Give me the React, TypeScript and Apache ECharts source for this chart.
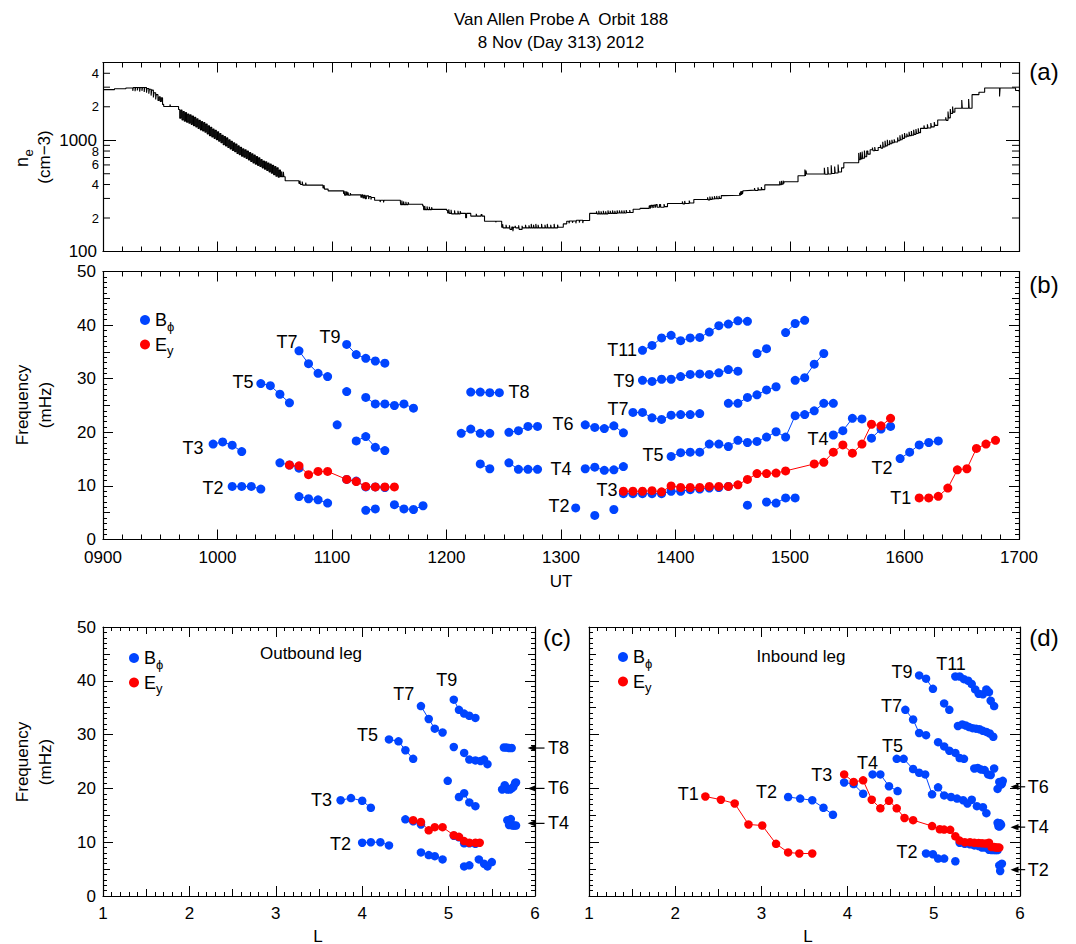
import React, { useEffect, useRef } from 'react';
import * as echarts from 'echarts';

const FONT = '"Liberation Sans", Arial, Helvetica, sans-serif';
const BLUE = '#0044ff';
const RED = '#ff0000';

// (a) electron density along the orbit: [UT hour, n_e (cm^-3)], each level held until the next sample
const neProfile: [number, number][] = [
  [9.0, 2850], [9.1, 2900], [9.2, 2950],
  [9.26, 2780], [9.265, 2980], [9.28, 2760], [9.285, 2980], [9.3, 2800], [9.305, 2980], [9.32, 2740], [9.325, 2980],
  [9.34, 2780], [9.345, 2980], [9.36, 2720], [9.365, 2980], [9.38, 2680], [9.385, 2920], [9.4, 2620], [9.405, 2870],
  [9.42, 2520], [9.425, 2820], [9.44, 2420], [9.445, 2670], [9.46, 2330], [9.465, 2570], [9.48, 2280], [9.49, 2460],
  [9.5, 2230], [9.51, 2410], [9.52, 2100], [9.53, 2010], [9.585, 2100], [9.59, 2010],
  [9.66, 1890], [9.67, 1580], [9.68, 1870], [9.69, 1520], [9.7, 1810], [9.71, 1480], [9.72, 1770], [9.73, 1450],
  [9.74, 1720], [9.75, 1420], [9.76, 1690], [9.77, 1390], [9.78, 1650], [9.79, 1350], [9.8, 1610], [9.81, 1320],
  [9.82, 1560], [9.83, 1280], [9.84, 1510], [9.85, 1240], [9.86, 1470], [9.87, 1210], [9.88, 1440], [9.89, 1180],
  [9.9, 1400], [9.91, 1140], [9.92, 1350], [9.93, 1100], [9.94, 1310], [9.95, 1070], [9.96, 1260], [9.97, 1040],
  [9.98, 1230], [9.99, 1010], [10.0, 1190], [10.01, 980], [10.02, 1150], [10.03, 950], [10.04, 1110], [10.05, 910],
  [10.06, 1080], [10.07, 890], [10.08, 1050], [10.09, 860], [10.1, 1010], [10.11, 835], [10.12, 980], [10.13, 810],
  [10.14, 950], [10.15, 790], [10.16, 925], [10.17, 760], [10.18, 890], [10.19, 740], [10.2, 865], [10.21, 720],
  [10.22, 840], [10.23, 705], [10.24, 820], [10.25, 685], [10.26, 800], [10.27, 665], [10.28, 775], [10.29, 645],
  [10.3, 755], [10.31, 625], [10.32, 735], [10.33, 610], [10.34, 715], [10.35, 595], [10.36, 695], [10.37, 580],
  [10.38, 670], [10.39, 565], [10.4, 650], [10.41, 550], [10.42, 640], [10.43, 535], [10.44, 625], [10.45, 520],
  [10.46, 610], [10.47, 505], [10.48, 595], [10.49, 490], [10.5, 580], [10.51, 475], [10.52, 565], [10.53, 465],
  [10.54, 540], [10.55, 470], [10.56, 525], [10.565, 470], [10.575, 520], [10.58, 470], [10.591, 433],
  [10.711, 410], [10.72, 433], [10.725, 400], [10.74, 425], [10.745, 395], [10.77, 415], [10.775, 395],
  [10.921, 372], [10.93, 395], [10.935, 364], [10.966, 351],
  [11.101, 330], [11.106, 351], [11.111, 320], [11.12, 348], [11.125, 320], [11.13, 345], [11.135, 320], [11.14, 340],
  [11.145, 320], [11.16, 335], [11.165, 323],
  [11.252, 308], [11.26, 323], [11.27, 303], [11.28, 320], [11.29, 298], [11.3, 316], [11.32, 296], [11.325, 312],
  [11.34, 293], [11.345, 306], [11.372, 289], [11.42, 278], [11.425, 289], [11.45, 276], [11.455, 289],
  [11.597, 282], [11.6, 264], [11.61, 287], [11.615, 264], [11.625, 282], [11.63, 264], [11.645, 280], [11.65, 264],
  [11.665, 277], [11.67, 266],
  [11.792, 257], [11.8, 238], [11.81, 257], [11.815, 238], [11.83, 254], [11.835, 238], [11.85, 252], [11.855, 238],
  [11.87, 250], [11.875, 239],
  [12.002, 234], [12.01, 222], [12.02, 240], [12.025, 220], [12.04, 237], [12.045, 218], [12.07, 234], [12.075, 218],
  [12.1, 232], [12.105, 218], [12.12, 230], [12.125, 220], [12.167, 201], [12.175, 220], [12.212, 208], [12.26, 218],
  [12.265, 208], [12.302, 215], [12.31, 208],
  [12.332, 187], [12.43, 183], [12.435, 187], [12.482, 165],
  [12.49, 176], [12.495, 163], [12.52, 174], [12.525, 163], [12.55, 172], [12.555, 158], [12.57, 166], [12.58, 152],
  [12.585, 165], [12.6, 170], [12.605, 163], [12.63, 172], [12.635, 158], [12.66, 170], [12.665, 163], [12.69, 174],
  [12.695, 163], [12.72, 172], [12.725, 163], [12.74, 177], [12.745, 163], [12.76, 174], [12.765, 163], [12.78, 177],
  [12.785, 163], [12.8, 174], [12.805, 163], [12.83, 177], [12.835, 163], [12.86, 174], [12.865, 163], [12.88, 177],
  [12.885, 163], [12.91, 174], [12.915, 163], [12.94, 177], [12.945, 163], [12.97, 174], [12.975, 165],
  [13.02, 177], [13.05, 187], [13.07, 179], [13.075, 188], [13.1, 181], [13.105, 188], [13.13, 179], [13.135, 191],
  [13.16, 182], [13.165, 191], [13.19, 180], [13.195, 190],
  [13.25, 220], [13.31, 230], [13.315, 218], [13.33, 232], [13.335, 218], [13.35, 230], [13.355, 218], [13.37, 232],
  [13.375, 218], [13.39, 230], [13.395, 218], [13.41, 234], [13.415, 220], [13.43, 232], [13.435, 220], [13.45, 234],
  [13.455, 220], [13.47, 232], [13.475, 220], [13.49, 234], [13.495, 222], [13.51, 234], [13.515, 222], [13.53, 234],
  [13.535, 222], [13.55, 234], [13.555, 222], [13.57, 236], [13.575, 224], [13.6, 236], [13.605, 224], [13.63, 240],
  [13.69, 244], [13.77, 257], [13.78, 243], [13.785, 260], [13.795, 246], [13.8, 260], [13.81, 246], [13.815, 262],
  [13.825, 248], [13.83, 264], [13.84, 250], [13.86, 264], [13.87, 250], [13.9, 267], [13.905, 253], [13.93, 270],
  [14.06, 282], [14.065, 268], [14.08, 285], [14.085, 270], [14.12, 287], [14.125, 273], [14.16, 293],
  [14.28, 307], [14.285, 291], [14.3, 312], [14.305, 294], [14.32, 312], [14.325, 296], [14.34, 314], [14.345, 298],
  [14.36, 316], [14.365, 298], [14.38, 316], [14.385, 300], [14.4, 318], [14.42, 320],
  [14.56, 338], [14.565, 318], [14.57, 348], [14.575, 323], [14.58, 350], [14.585, 328], [14.59, 352], [14.6, 356],
  [14.69, 372], [14.695, 354], [14.72, 377], [14.725, 358], [14.75, 380], [14.755, 360], [14.78, 397],
  [14.91, 428], [14.915, 398], [14.925, 431], [14.93, 402], [14.94, 433], [14.945, 408], [14.95, 424],
  [15.07, 480], [15.13, 545], [15.135, 478], [15.14, 535], [15.145, 497],
  [15.3, 565], [15.305, 495], [15.33, 575], [15.335, 498], [15.36, 595], [15.365, 503], [15.39, 580], [15.395, 508],
  [15.42, 605], [15.425, 518], [15.45, 565], [15.47, 627],
  [15.6, 770], [15.605, 670], [15.615, 780], [15.62, 680], [15.63, 790], [15.635, 690], [15.65, 810], [15.655, 710],
  [15.67, 800], [15.68, 750], [15.7, 822], [15.72, 860], [15.725, 805], [15.74, 870], [15.745, 810], [15.77, 860],
  [15.79, 910], [15.795, 850], [15.81, 970], [15.815, 870], [15.83, 990], [15.835, 890], [15.85, 1010], [15.855, 910],
  [15.87, 1000], [15.875, 930], [15.89, 1010], [15.895, 950], [15.91, 1020], [15.915, 966],
  [15.94, 1060], [15.945, 990], [15.96, 1110], [15.965, 1010], [15.98, 1130], [15.985, 1040], [16.0, 1160],
  [16.005, 1070], [16.02, 1150], [16.025, 1090], [16.04, 1190], [16.045, 1100], [16.06, 1210], [16.065, 1110],
  [16.08, 1240], [16.085, 1130], [16.1, 1260], [16.105, 1150], [16.12, 1280], [16.125, 1170], [16.14, 1280],
  [16.17, 1360], [16.175, 1280], [16.2, 1390], [16.205, 1290], [16.23, 1430], [16.235, 1320], [16.26, 1460],
  [16.265, 1360], [16.29, 1520],
  [16.36, 1610], [16.365, 1510], [16.38, 1810], [16.385, 1590], [16.4, 1910], [16.405, 1740], [16.42, 2010],
  [16.425, 1790], [16.44, 1941], [16.5, 2300], [16.505, 1941], [16.56, 2350], [16.565, 1941],
  [16.59, 2570], [16.65, 2700], [16.7, 2950], [16.83, 2480], [16.835, 2950], [16.97, 2800], [17.0, 2750],
];

// (a) intermediate log ticks and their labels
const neMinorTicks = [200, 300, 400, 500, 600, 700, 800, 900, 2000, 3000, 4000];
const neMinorLabels = ['2', '', '4', '', '6', '', '8', '', '2', '', '4'];

// (b) tracks: t = minutes after 0900 UT, f = frequency (mHz)
type Track = { t: number[]; f: number[] };
const utBphi: Track[] = [
  { t: [57.7, 62.7, 67.7, 72.7], f: [17.8, 18.2, 17.6, 16.4] },
  { t: [67.7, 72.7, 77.7, 82.7], f: [9.9, 9.9, 9.9, 9.4] },
  { t: [82.7, 87.7, 92.7, 97.7], f: [29.1, 28.7, 27.1, 25.5] },
  { t: [102.7, 107.7, 112.7, 117.7], f: [35.2, 32.8, 31.0, 30.4] },
  { t: [127.7, 132.7, 137.7, 142.7, 147.7], f: [36.4, 34.5, 33.8, 33.3, 32.9] },
  { t: [127.7], f: [27.6] },
  { t: [137.7, 142.7, 147.7, 152.7, 157.7, 162.7], f: [26.5, 25.3, 25.3, 25.0, 25.3, 24.5] },
  { t: [122.7], f: [21.4] },
  { t: [132.7, 137.7, 142.7, 147.7], f: [18.4, 19.2, 17.2, 16.6] },
  { t: [92.7, 97.7, 102.7], f: [14.3, 13.9, 13.3] },
  { t: [127.7, 132.7, 137.7, 142.7, 147.7], f: [11.2, 10.9, 9.8, 9.8, 9.7] },
  { t: [102.7, 107.7, 112.7, 117.7], f: [8.0, 7.6, 7.4, 6.8] },
  { t: [137.7, 142.7], f: [5.45, 5.7] },
  { t: [152.7, 157.7, 162.7, 167.7], f: [6.5, 5.7, 5.6, 6.3] },
  { t: [192.7, 197.7, 202.7, 207.7], f: [27.5, 27.5, 27.4, 27.4] },
  { t: [187.7, 192.7, 197.7, 202.7], f: [19.8, 20.6, 19.8, 19.8] },
  { t: [212.7, 217.7, 222.7, 227.7], f: [20.0, 20.3, 21.1, 21.1] },
  { t: [197.7, 202.7], f: [14.1, 13.2] },
  { t: [212.7, 217.7, 222.7, 227.7], f: [14.3, 13.1, 13.1, 13.1] },
  { t: [252.7, 257.7, 262.7, 267.7, 272.7], f: [21.4, 20.9, 20.7, 21.2, 19.9] },
  { t: [252.7, 257.7, 262.7, 267.7, 272.7], f: [13.2, 13.5, 12.9, 13.0, 13.6] },
  { t: [247.7], f: [5.9] },
  { t: [257.7], f: [4.5] },
  { t: [267.7], f: [5.6] },
  { t: [282.7, 287.7, 292.7, 297.7, 302.7, 307.7, 312.7, 317.7, 322.7, 327.7, 332.7, 337.7], f: [35.3, 36.2, 37.6, 38.1, 37.1, 37.6, 37.7, 38.7, 39.9, 40.2, 40.8, 40.7] },
  { t: [282.7, 287.7, 292.7, 297.7, 302.7, 307.7, 312.7, 317.7, 322.7, 327.7, 332.7], f: [29.7, 29.5, 29.9, 29.9, 30.4, 30.8, 30.9, 30.8, 31.1, 31.7, 31.4] },
  { t: [277.7, 282.7, 287.7, 292.7, 297.7, 302.7, 307.7, 312.7], f: [23.7, 23.7, 22.7, 22.4, 23.2, 23.3, 23.3, 23.5] },
  { t: [297.7, 302.7, 307.7, 312.7, 317.7, 322.7, 327.7, 332.7, 337.7, 342.7, 347.7, 352.7, 357.7, 362.7, 367.7, 372.7, 377.7, 382.7], f: [15.5, 16.2, 16.3, 16.3, 17.8, 17.8, 17.35, 18.5, 18.1, 18.3, 19.1, 20.1, 19.1, 23.1, 23.3, 24.0, 25.4, 25.4] },
  { t: [327.7, 332.7, 337.7, 342.7, 347.7, 352.7], f: [25.4, 25.4, 26.5, 27.0, 27.9, 28.5] },
  { t: [342.7, 347.7], f: [34.7, 35.6] },
  { t: [357.7, 362.7, 367.7], f: [38.6, 40.3, 40.9] },
  { t: [362.7, 367.7, 372.7, 377.7], f: [29.7, 30.2, 32.7, 34.7] },
  { t: [337.7], f: [6.4] },
  { t: [347.7, 352.7, 357.7, 362.7], f: [7.0, 6.8, 7.75, 7.75] },
  { t: [382.7, 387.7, 392.7, 397.7], f: [19.5, 20.3, 22.6, 22.5] },
  { t: [402.7, 407.7, 412.7], f: [18.9, 20.6, 21.1] },
  { t: [417.7, 422.7, 427.7, 432.7, 437.7], f: [15.1, 16.3, 17.65, 18.1, 18.4] },
  { t: [272.7, 277.7, 282.7, 287.7, 292.7, 297.7, 302.7, 307.7, 312.7, 317.7, 322.7, 327.7], f: [8.55, 8.55, 8.55, 8.55, 8.55, 9.0, 9.0, 9.3, 9.4, 9.6, 9.7, 9.9] },
];
const utEy: Track[] = [
  { t: [97.7, 102.7, 107.7, 112.7, 117.7, 127.7, 132.7, 137.7, 142.7, 147.7, 152.7], f: [13.9, 13.75, 12.1, 12.7, 12.7, 11.2, 10.8, 9.9, 9.8, 9.8, 9.8] },
  { t: [272.7, 277.7, 282.7, 287.7, 292.7, 297.7, 302.7, 307.7, 312.7, 317.7, 322.7, 327.7, 332.7, 337.7, 342.7, 347.7, 352.7, 357.7, 372.7, 377.7, 382.7, 387.7, 392.7, 397.7, 402.7, 407.7, 412.7], f: [9.0, 9.0, 9.0, 9.1, 8.9, 10.0, 9.7, 9.7, 9.7, 9.9, 9.9, 9.9, 10.2, 11.2, 12.3, 12.3, 12.4, 12.8, 14.1, 14.4, 16.3, 17.65, 16.1, 17.8, 21.5, 21.2, 22.6] },
  { t: [427.7, 432.7, 437.7, 442.7, 447.7, 452.7, 457.7, 462.7, 467.7], f: [7.75, 7.75, 8.05, 9.6, 13.0, 13.2, 17.0, 17.8, 18.5] },
];
const utLabelText = ['T3', 'T2', 'T5', 'T7', 'T9', 'T8', 'T6', 'T4', 'T2', 'T11', 'T9', 'T7', 'T5', 'T3', 'T4', 'T2', 'T1'];
const utLabelT = [47.2, 57.7, 73.4, 96.4, 119.0, 218.0, 241.0, 240.0, 239.0, 272.0, 273.0, 269.9, 288.2, 264.1, 374.7, 408.2, 418.1];
const utLabelF = [17.0, 9.7, 29.3, 36.9, 37.7, 27.6, 21.5, 13.2, 6.2, 35.4, 29.5, 24.3, 15.7, 9.3, 18.8, 13.4, 7.8];

// (c) outbound leg: L shell, frequency (mHz)
type LTrack = { L: number[]; f: number[] };
const outBphi: LTrack[] = [
  { L: [3.75, 3.87, 4.0, 4.1], f: [17.8, 18.2, 17.7, 16.4] },
  { L: [4.0, 4.1, 4.21, 4.31], f: [9.9, 10.0, 10.0, 9.4] },
  { L: [4.31, 4.42, 4.5, 4.59], f: [29.1, 28.75, 27.1, 25.5] },
  { L: [4.68, 4.77, 4.84, 4.93], f: [35.3, 32.9, 31.1, 30.4] },
  { L: [5.06, 5.12, 5.18, 5.24, 5.31], f: [36.5, 34.6, 33.9, 33.5, 33.1] },
  { L: [5.06], f: [27.7] },
  { L: [5.18, 5.24, 5.31, 5.37, 5.41, 5.45], f: [26.6, 25.35, 25.2, 25.1, 25.35, 24.5] },
  { L: [4.99], f: [21.4] },
  { L: [5.12, 5.18, 5.24, 5.31], f: [18.4, 19.1, 17.4, 16.7] },
  { L: [4.5, 4.59, 4.68], f: [14.25, 13.9, 13.3] },
  { L: [5.06, 5.12, 5.18, 5.24, 5.31], f: [11.2, 10.9, 9.8, 9.8, 9.7] },
  { L: [4.68, 4.77, 4.84, 4.93], f: [8.1, 7.6, 7.4, 6.8] },
  { L: [5.18, 5.24], f: [5.5, 5.7] },
  { L: [5.35, 5.41, 5.45, 5.5], f: [6.8, 6.0, 5.5, 6.3] },
  { L: [5.64, 5.67, 5.7, 5.73], f: [27.6, 27.6, 27.5, 27.5] },
  { L: [5.62, 5.65, 5.68, 5.71], f: [19.8, 20.6, 19.8, 19.8] },
  { L: [5.73, 5.75, 5.77, 5.78], f: [20.0, 20.3, 21.0, 21.1] },
  { L: [5.68, 5.7], f: [14.1, 13.2] },
  { L: [5.72, 5.74, 5.76, 5.78], f: [14.3, 13.1, 13.1, 13.1] },
];
const outEy: LTrack[] = [
  { L: [4.59, 4.68, 4.77, 4.84, 4.93, 5.06, 5.12, 5.18, 5.24, 5.31, 5.36], f: [14.1, 13.75, 12.2, 12.8, 12.8, 11.3, 11.0, 10.2, 9.9, 9.9, 9.9] },
];
const outLabelText = ['T3', 'T2', 'T5', 'T7', 'T9'];
const outLabelL = [3.53, 3.75, 4.06, 4.48, 4.98];
const outLabelF = [17.9, 9.7, 30.0, 37.6, 40.2];
const outArrowText = ['T8', 'T6', 'T4'];
const outArrowF = [27.5, 20.0, 13.5];

// (d) inbound leg: L shell, frequency (mHz)
const inBphi: LTrack[] = [
  { L: [3.31, 3.45, 3.59, 3.72, 3.83], f: [18.4, 18.1, 17.8, 16.4, 15.1] },
  { L: [3.96, 4.07, 4.18], f: [21.1, 20.8, 19.0] },
  { L: [4.29, 4.38, 4.48, 4.58], f: [22.6, 22.6, 20.4, 19.5] },
  { L: [4.57, 4.65, 4.76, 4.83, 4.9, 4.98, 5.05, 5.12, 5.2, 5.27, 5.34, 5.39, 5.44, 5.5, 5.57, 5.61], f: [25.5, 25.5, 23.6, 22.9, 22.6, 18.9, 20.2, 18.7, 18.4, 18.1, 17.8, 17.2, 17.9, 16.7, 16.5, 15.4] },
  { L: [4.67, 4.76, 4.83, 4.91], f: [34.6, 32.8, 30.3, 29.9] },
  { L: [5.05, 5.12, 5.18, 5.25, 5.3, 5.35], f: [28.6, 27.8, 27.0, 26.6, 25.65, 25.5] },
  { L: [5.47, 5.51, 5.55, 5.59, 5.63, 5.66, 5.7], f: [23.7, 23.8, 23.5, 23.4, 22.6, 22.5, 23.7] },
  { L: [4.83, 4.91, 4.99], f: [41.0, 40.4, 38.5] },
  { L: [5.12, 5.18], f: [35.8, 34.6] },
  { L: [5.28, 5.33, 5.37, 5.41, 5.45, 5.49, 5.53, 5.57, 5.61, 5.65, 5.69], f: [31.6, 31.9, 31.7, 31.4, 31.2, 31.1, 31.0, 30.7, 30.5, 30.2, 29.6] },
  { L: [5.25, 5.3, 5.35, 5.4, 5.44, 5.48, 5.52, 5.57, 5.61, 5.64, 5.66, 5.7], f: [40.8, 40.8, 40.3, 40.0, 39.4, 38.4, 37.6, 37.5, 38.4, 37.9, 36.3, 35.3] },
  { L: [4.91, 4.99, 5.05, 5.12], f: [7.9, 7.75, 6.95, 6.95] },
  { L: [5.25], f: [6.45] },
  { L: [5.74, 5.76, 5.78, 5.79, 5.8], f: [19.9, 21.2, 20.7, 20.9, 21.4] },
  { L: [5.74, 5.75, 5.76, 5.77, 5.78], f: [13.6, 13.0, 12.9, 13.5, 13.2] },
  { L: [5.76], f: [5.7] },
  { L: [5.79], f: [6.0] },
  { L: [5.77], f: [4.65] },
  { L: [5.3, 5.36, 5.42, 5.47, 5.52, 5.56, 5.6, 5.64, 5.67, 5.7, 5.72, 5.74], f: [9.9, 9.7, 9.6, 9.4, 9.3, 9.0, 9.0, 8.6, 8.55, 8.55, 8.55, 8.55] },
];
const inEy: LTrack[] = [
  { L: [2.35, 2.53, 2.69, 2.85, 3.01, 3.17, 3.31, 3.44, 3.59], f: [18.5, 17.9, 17.2, 13.3, 13.1, 9.7, 8.1, 7.9, 7.9] },
  { L: [3.96, 4.07, 4.18, 4.28, 4.38, 4.48, 4.57, 4.66, 4.76, 4.98, 5.07, 5.12, 5.19, 5.25, 5.3, 5.36, 5.42, 5.47, 5.52, 5.56, 5.6, 5.64, 5.67, 5.7, 5.72, 5.74, 5.76], f: [22.6, 21.2, 21.5, 17.9, 16.3, 17.7, 16.3, 14.5, 14.1, 13.0, 12.4, 12.35, 12.3, 11.1, 10.3, 10.0, 10.0, 9.9, 9.85, 9.8, 9.75, 9.9, 9.1, 9.1, 9.0, 9.0, 9.0] },
];
const inLabelText = ['T1', 'T2', 'T3', 'T4', 'T5', 'T7', 'T9', 'T11', 'T2'];
const inLabelL = [2.15, 3.06, 3.7, 4.23, 4.52, 4.51, 4.63, 5.2, 4.69];
const inLabelF = [19.0, 19.3, 22.4, 24.7, 27.9, 35.3, 41.6, 43.2, 8.2];
const inArrowText = ['T6', 'T4', 'T2'];
const inArrowF = [20.3, 12.8, 4.9];

// ---------- layout ----------
const GRIDS = [
  { left: 103, top: 62.5, width: 916, height: 189 },
  { left: 103, top: 271.5, width: 916, height: 268 },
  { left: 103, top: 627, width: 432, height: 269 },
  { left: 589, top: 627, width: 431, height: 269 },
];

const tickLine = { color: '#000', width: 1 };

function valAxis(o: any) {
  return {
    type: 'value',
    gridIndex: o.grid,
    position: o.pos,
    min: o.min,
    max: o.max,
    interval: o.interval,
    axisLine: { show: o.line !== false, onZero: false, lineStyle: { color: '#000', width: 1.2 } },
    axisTick: { show: true, inside: true, length: o.tick, lineStyle: tickLine },
    minorTick: o.minor
      ? { show: true, splitNumber: o.minor, length: o.minorLen, lineStyle: tickLine }
      : { show: false },
    axisLabel: o.labels
      ? { show: true, fontSize: 17, color: '#000', fontFamily: FONT, margin: o.margin || 7, formatter: o.formatter }
      : { show: false },
    splitLine: { show: false },
    minorSplitLine: { show: false },
    axisPointer: { show: false },
    silent: true,
  };
}

function logAxis(pos: string, labels: boolean) {
  return {
    type: 'log',
    logBase: 10,
    gridIndex: 0,
    position: pos,
    min: 100,
    max: 5000,
    axisLine: { show: true, onZero: false, lineStyle: { color: '#000', width: 1.2 } },
    axisTick: { show: true, inside: true, length: 13, lineStyle: tickLine },
    axisLabel: labels
      ? {
          show: true,
          fontSize: 17,
          color: '#000',
          fontFamily: FONT,
          margin: 6,
          showMaxLabel: false,
          formatter: (v: number) => (Math.abs(v - 100) < 1e-6 ? '100' : Math.abs(v - 1000) < 1e-6 ? '1000' : ''),
        }
      : { show: false },
    splitLine: { show: false },
    silent: true,
  };
}

const utFormatter = (v: number) => (v < 10 ? '0' : '') + v + '00';

function trackSeries(
  tracks: { x: number[]; f: number[] }[],
  color: string,
  name: string,
  xi: number,
  yi: number,
  size: number,
  z: number,
) {
  return tracks.map((g) => ({
    type: 'line',
    name,
    xAxisIndex: xi,
    yAxisIndex: yi,
    data: g.x.map((x, i) => [x, g.f[i]]),
    symbol: 'circle',
    symbolSize: size,
    showSymbol: true,
    lineStyle: { color, width: 1 },
    itemStyle: { color },
    z,
    silent: true,
    animation: false,
  }));
}

function labelSeries(xi: number, yi: number, xs: number[], ys: number[], texts: string[]) {
  return {
    type: 'custom',
    xAxisIndex: xi,
    yAxisIndex: yi,
    clip: false,
    silent: true,
    z: 5,
    data: xs.map((x, i) => [x, ys[i]]),
    renderItem: (params: any, api: any) => {
      const p = api.coord([api.value(0), api.value(1)]);
      return {
        type: 'text',
        x: p[0],
        y: p[1],
        style: {
          text: texts[params.dataIndex],
          fontSize: 18,
          fontFamily: FONT,
          fill: '#000',
          align: 'center',
          verticalAlign: 'middle',
          textAlign: 'center',
          textVerticalAlign: 'middle',
        },
      };
    },
  };
}

function arrowSeries(
  xi: number,
  yi: number,
  ys: number[],
  texts: string[],
  tipL: number,
  tailL: number,
  textL: number,
) {
  return {
    type: 'custom',
    xAxisIndex: xi,
    yAxisIndex: yi,
    clip: false,
    silent: true,
    z: 6,
    data: ys.map((y) => [tipL, y]),
    renderItem: (params: any, api: any) => {
      const f = api.value(1);
      const tip = api.coord([tipL, f]);
      const tail = api.coord([tailL, f]);
      const tx = api.coord([textL, f]);
      const y = tip[1];
      return {
        type: 'group',
        children: [
          { type: 'line', shape: { x1: tip[0] + 5, y1: y, x2: tail[0], y2: y }, style: { stroke: '#000', lineWidth: 1.2 } },
          {
            type: 'polygon',
            shape: { points: [[tip[0], y], [tip[0] + 8, y - 3.2], [tip[0] + 8, y + 3.2]] },
            style: { fill: '#000' },
          },
          {
            type: 'text',
            x: tx[0],
            y,
            style: {
              text: texts[params.dataIndex],
              fontSize: 18,
              fontFamily: FONT,
              fill: '#000',
              align: 'left',
              verticalAlign: 'middle',
              textAlign: 'left',
              textVerticalAlign: 'middle',
            },
          },
        ],
      };
    },
  };
}

function txt(x: number, y: number, text: string, size: number, extra: any = {}) {
  return {
    type: 'text',
    x,
    y,
    silent: true,
    rotation: extra.rotation || 0,
    style: {
      text,
      fontSize: size,
      fontFamily: FONT,
      fill: '#000',
      align: extra.align || 'center',
      verticalAlign: 'middle',
      textAlign: extra.align || 'center',
      textVerticalAlign: 'middle',
    },
  };
}

function legendItems(x: number, y: number) {
  return [
    { type: 'circle', silent: true, shape: { cx: x, cy: y, r: 5 }, style: { fill: BLUE } },
    txt(x + 10, y, 'B', 18, { align: 'left' }),
    txt(x + 22, y + 6, 'ϕ', 13, { align: 'left' }),
    { type: 'circle', silent: true, shape: { cx: x, cy: y + 24.5, r: 5 }, style: { fill: RED } },
    txt(x + 10, y + 24.5, 'E', 18, { align: 'left' }),
    txt(x + 22, y + 30.5, 'y', 13, { align: 'left' }),
  ];
}

function buildOption() {
  const R = Math.PI / 2;
  const xAxis = [
    // (a)
    valAxis({ grid: 0, pos: 'bottom', min: 9, max: 17, interval: 1, tick: 10, minor: 6, minorLen: 5 }),
    valAxis({ grid: 0, pos: 'top', min: 9, max: 17, interval: 1, tick: 10, minor: 6, minorLen: 5 }),
    // (b)
    valAxis({ grid: 1, pos: 'bottom', min: 9, max: 17, interval: 1, tick: 10, minor: 6, minorLen: 5, labels: true, margin: 9, formatter: utFormatter }),
    valAxis({ grid: 1, pos: 'top', min: 9, max: 17, interval: 1, tick: 10, minor: 6, minorLen: 5 }),
    // (c)
    valAxis({ grid: 2, pos: 'bottom', min: 1, max: 6, interval: 1, tick: 10, minor: 10, minorLen: 4, labels: true, margin: 9 }),
    valAxis({ grid: 2, pos: 'top', min: 1, max: 6, interval: 1, tick: 10, minor: 10, minorLen: 4 }),
    valAxis({ grid: 2, pos: 'bottom', min: 1, max: 6, interval: 0.5, tick: 7, line: false }),
    valAxis({ grid: 2, pos: 'top', min: 1, max: 6, interval: 0.5, tick: 7, line: false }),
    // (d)
    valAxis({ grid: 3, pos: 'bottom', min: 1, max: 6, interval: 1, tick: 10, minor: 10, minorLen: 4, labels: true, margin: 9 }),
    valAxis({ grid: 3, pos: 'top', min: 1, max: 6, interval: 1, tick: 10, minor: 10, minorLen: 4 }),
    valAxis({ grid: 3, pos: 'bottom', min: 1, max: 6, interval: 0.5, tick: 7, line: false }),
    valAxis({ grid: 3, pos: 'top', min: 1, max: 6, interval: 0.5, tick: 7, line: false }),
  ];
  const yAxis: any[] = [
    logAxis('left', true),
    logAxis('right', false),
    // (b)
    valAxis({ grid: 1, pos: 'left', min: 0, max: 50, interval: 10, tick: 10, minor: 10, minorLen: 4, labels: true }),
    valAxis({ grid: 1, pos: 'right', min: 0, max: 50, interval: 10, tick: 10, minor: 10, minorLen: 4 }),
    valAxis({ grid: 1, pos: 'left', min: 0, max: 50, interval: 5, tick: 7, line: false }),
    valAxis({ grid: 1, pos: 'right', min: 0, max: 50, interval: 5, tick: 7, line: false }),
    // (c)
    valAxis({ grid: 2, pos: 'left', min: 0, max: 50, interval: 10, tick: 10, minor: 10, minorLen: 4, labels: true }),
    valAxis({ grid: 2, pos: 'right', min: 0, max: 50, interval: 10, tick: 10, minor: 10, minorLen: 4 }),
    valAxis({ grid: 2, pos: 'left', min: 0, max: 50, interval: 5, tick: 7, line: false }),
    valAxis({ grid: 2, pos: 'right', min: 0, max: 50, interval: 5, tick: 7, line: false }),
    // (d)
    valAxis({ grid: 3, pos: 'left', min: 0, max: 50, interval: 10, tick: 10, minor: 10, minorLen: 4 }),
    valAxis({ grid: 3, pos: 'right', min: 0, max: 50, interval: 10, tick: 10, minor: 10, minorLen: 4 }),
    valAxis({ grid: 3, pos: 'left', min: 0, max: 50, interval: 5, tick: 7, line: false }),
    valAxis({ grid: 3, pos: 'right', min: 0, max: 50, interval: 5, tick: 7, line: false }),
  ];

  const utX = (tr: Track[]) => tr.map((g) => ({ x: g.t.map((m) => 9 + m / 60), f: g.f }));
  const lX = (tr: LTrack[]) => tr.map((g) => ({ x: g.L, f: g.f }));

  const series: any[] = [
    {
      type: 'line',
      name: 'ne',
      xAxisIndex: 0,
      yAxisIndex: 0,
      data: neProfile,
      step: 'end',
      showSymbol: false,
      symbol: 'none',
      lineStyle: { color: '#000', width: 1.1 },
      silent: true,
    },
    {
      type: 'custom',
      name: 'neTicks',
      xAxisIndex: 0,
      yAxisIndex: 0,
      clip: false,
      silent: true,
      data: neMinorTicks.map((v) => [9, v]),
      renderItem: (params: any, api: any) => {
        const v = api.value(1);
        const l = api.coord([9, v]);
        const r = api.coord([17, v]);
        const children: any[] = [
          { type: 'line', shape: { x1: l[0], y1: l[1], x2: l[0] + 7, y2: l[1] }, style: { stroke: '#000', lineWidth: 1 } },
          { type: 'line', shape: { x1: r[0], y1: r[1], x2: r[0] - 7, y2: r[1] }, style: { stroke: '#000', lineWidth: 1 } },
        ];
        const lbl = neMinorLabels[params.dataIndex];
        if (lbl) {
          children.push({
            type: 'text',
            x: l[0] - 4,
            y: l[1],
            style: {
              text: lbl, fontSize: 13, fontFamily: FONT, fill: '#000',
              align: 'right', verticalAlign: 'middle', textAlign: 'right', textVerticalAlign: 'middle',
            },
          });
        }
        return { type: 'group', children };
      },
    },
    ...trackSeries(utX(utBphi), BLUE, 'Bϕ', 2, 2, 9, 2),
    ...trackSeries(utX(utEy), RED, 'Ey', 2, 2, 9, 3),
    labelSeries(2, 2, utLabelT.map((m) => 9 + m / 60), utLabelF, utLabelText),
    ...trackSeries(lX(outBphi), BLUE, 'Bϕ', 4, 6, 8.5, 2),
    ...trackSeries(lX(outEy), RED, 'Ey', 4, 6, 8.5, 3),
    labelSeries(4, 6, outLabelL, outLabelF, outLabelText),
    arrowSeries(4, 6, outArrowF, outArrowText, 5.915, 6.11, 6.15),
    ...trackSeries(lX(inBphi), BLUE, 'Bϕ', 8, 10, 8.5, 2),
    ...trackSeries(lX(inEy), RED, 'Ey', 8, 10, 8.5, 3),
    labelSeries(8, 10, inLabelL, inLabelF, inLabelText),
    arrowSeries(8, 10, inArrowF, inArrowText, 5.89, 6.06, 6.09),
  ];

  const graphic: any[] = [
    txt(561, 19, 'Van Allen Probe A  Orbit 188', 17),
    txt(561, 42, '8 Nov (Day 313) 2012', 17),
    txt(1044, 71, '(a)', 24),
    txt(1044, 284, '(b)', 24),
    txt(557, 637, '(c)', 24),
    txt(1044, 637, '(d)', 24),
    // axis titles
    txt(22, 162, 'n', 18, { rotation: R }),
    txt(28, 153, 'e', 13, { rotation: R }),
    txt(44, 157, '(cm−3)', 17, { rotation: R }),
    txt(22, 405, 'Frequency', 17, { rotation: R }),
    txt(45, 405, '(mHz)', 17, { rotation: R }),
    txt(22, 762, 'Frequency', 17, { rotation: R }),
    txt(45, 762, '(mHz)', 17, { rotation: R }),
    txt(561, 581, 'UT', 17),
    txt(318, 936, 'L', 17),
    txt(808, 936, 'L', 17),
    txt(311, 653, 'Outbound leg', 17),
    txt(801, 656, 'Inbound leg', 17),
    ...legendItems(145, 320),
    ...legendItems(134, 658),
    ...legendItems(623, 657),
  ];

  return {
    animation: false,
    backgroundColor: '#ffffff',
    textStyle: { fontFamily: FONT },
    grid: GRIDS.map((g) => ({ ...g, containLabel: false, show: false })),
    xAxis,
    yAxis,
    series,
    graphic,
  };
}

export default function App() {
  const ref = useRef<HTMLDivElement>(null);
  useEffect(() => {
    if (!ref.current) return;
    const chart = echarts.init(ref.current, undefined, { renderer: 'svg' });
    chart.setOption(buildOption() as any);
    return () => chart.dispose();
  }, []);
  return (
    <div
      ref={ref}
      style={{ position: 'fixed', left: 0, top: 0, width: 1076, height: 944, background: '#fff' }}
    />
  );
}
